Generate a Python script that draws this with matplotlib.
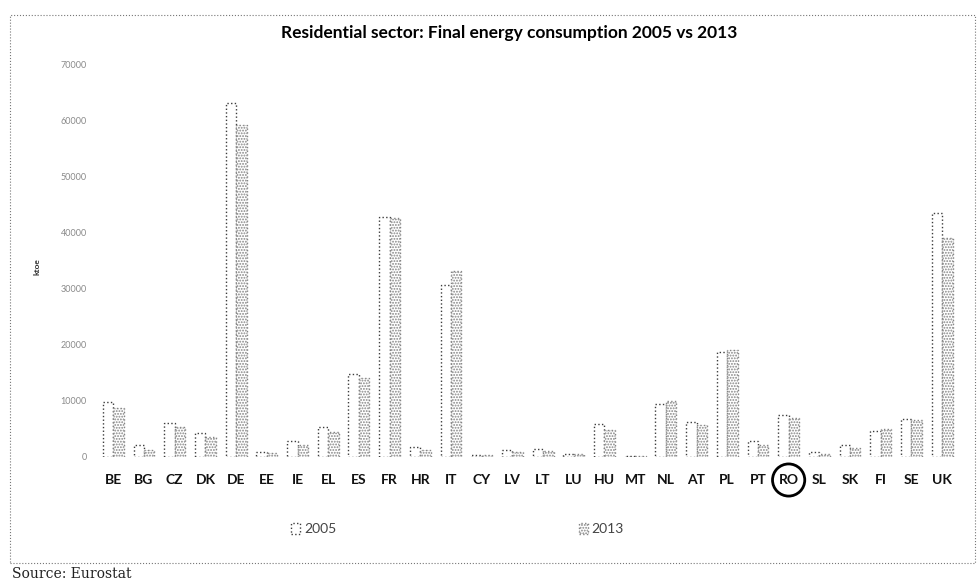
import matplotlib
matplotlib.use('Agg')
import matplotlib.pyplot as plt
from matplotlib import patches, transforms
import numpy as np

# country codes and residential final energy consumption (ktoe)
countries = ['BE', 'BG', 'CZ', 'DK', 'DE', 'EE', 'IE', 'EL', 'ES', 'FR',
             'HR', 'IT', 'CY', 'LV', 'LT', 'LU', 'HU', 'MT', 'NL', 'AT',
             'PL', 'PT', 'RO', 'SL', 'SK', 'FI', 'SE', 'UK']
values_2005 = [9800, 2150, 6070, 4290, 63200, 900, 2860, 5360, 14800, 42900,
               1800, 30700, 300, 1250, 1400, 550, 5900, 150, 9500, 6250,
               18750, 2860, 7500, 900, 2140, 4640, 6800, 43600]
values_2013 = [8750, 1250, 5360, 3570, 59300, 700, 2140, 4460, 14100, 42600,
               1250, 33200, 300, 900, 1100, 450, 4800, 150, 10000, 5700,
               19100, 2140, 6960, 500, 1600, 5000, 6600, 39100]
y_ticks = [0, 10000, 20000, 30000, 40000, 50000, 60000, 70000]
highlight = 'RO'

plt.rcParams['font.family'] = ['Lato', 'DejaVu Sans']
plt.rcParams['hatch.linewidth'] = 0.9

fig = plt.figure(figsize=(9.8, 5.85), dpi=100)
ax = fig.add_axes([0.1, 0.219, 0.877, 0.67])

x = np.arange(len(countries))
width = 0.34
bars_05 = ax.bar(x - width / 2, values_2005, width, facecolor='white',
                 edgecolor='#3c3c3c', linewidth=1.0, linestyle=':')
bars_13 = ax.bar(x + width / 2, values_2013, width, facecolor='white',
                 edgecolor='#858585', linewidth=1.0, linestyle=':',
                 hatch='......')

ax.set_xlim(-0.5, len(countries) - 0.5)
ax.set_ylim(0, 70000)
ax.set_yticks(y_ticks)
ax.set_yticklabels([str(v) for v in y_ticks], fontsize=6.5, color='#8a8a8a')
ax.set_xticks(x)
ax.set_xticklabels(countries, fontsize=10, fontweight='bold', color='#111111')
ax.tick_params(axis='both', length=0)
ax.tick_params(axis='x', pad=12)
ax.tick_params(axis='y', pad=8)
for side in ['top', 'right', 'left', 'bottom']:
    ax.spines[side].set_visible(False)

fig.text(0.038, 0.545, 'ktoe', rotation=90, fontsize=6, fontweight='bold',
         ha='center', va='center', color='#333333')

fig.text(0.52, 0.943, 'Residential sector: Final energy consumption 2005 vs 2013',
         fontsize=12.5, fontweight='bold', ha='center', va='center')

# circle round the highlighted label
idx = countries.index(highlight)
trans = transforms.blended_transform_factory(ax.transData, ax.transAxes)
ring = patches.Ellipse((idx, -0.059), 1.05, 0.082, transform=trans,
                       fill=False, edgecolor='black', linewidth=2.0,
                       clip_on=False)
ax.add_patch(ring)

leg = fig.legend([bars_05[0], bars_13[0]], ['2005', '2013'],
                 loc='center', bbox_to_anchor=(0.467, 0.096), ncol=2,
                 frameon=False, fontsize=10, handlelength=0.6,
                 handleheight=0.9, handletextpad=0.3, columnspacing=17.5)
for txt in leg.get_texts():
    txt.set_color('#444444')

# dotted frame round the chart
frame = patches.Rectangle((10 / 980, 1 - 563 / 585), 965 / 980, 548 / 585,
                          transform=fig.transFigure, fill=False,
                          edgecolor='#777777', linewidth=0.8, linestyle=':')
fig.patches.append(frame)

fig.text(12 / 980, 1 - 574 / 585, 'Source: Eurostat', fontsize=10,
         family='DejaVu Serif', ha='left', va='center', color='#222222')

fig.savefig('out.png', dpi=100)
